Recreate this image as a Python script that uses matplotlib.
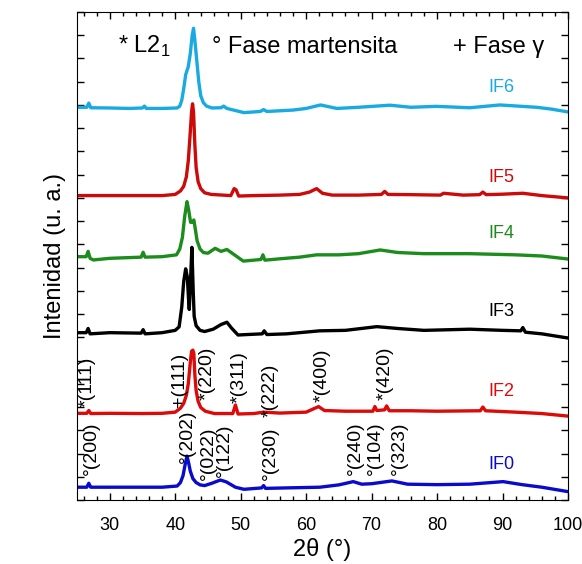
import numpy as np
import matplotlib
matplotlib.use('Agg')
import matplotlib.pyplot as plt
from matplotlib.ticker import MultipleLocator, NullFormatter

plt.rcParams['font.family'] = ['Liberation Sans', 'DejaVu Sans']
plt.rcParams['mathtext.fontset'] = 'custom'
plt.rcParams['mathtext.rm'] = 'Liberation Sans'

# Difractogramas (2theta, intensidad ya desplazada)
tt_if6 = [25, 26.5, 26.8, 27.1, 30, 33, 35.0, 35.3, 35.6, 38, 40.3, 40.7, 41.0, 41.3, 41.6,
          42.0, 42.3, 42.6, 42.8, 43.0, 43.3, 43.6, 43.9, 44.3, 44.8, 45.6, 47.0, 47.4, 47.9,
          50.5, 53.0, 53.5, 54.0, 58, 60, 62.2, 64.7, 68, 72.8, 76, 79.9, 85, 89.6, 95.2,
          97.5, 100]
i_if6 = [16.9, 16.9, 17.08, 16.88, 16.87, 16.85, 16.87, 16.95, 16.85, 16.85, 16.87, 16.95,
         17.2, 17.7, 18.3, 18.65, 19.2, 20.0, 20.3, 19.8, 18.9, 18.0, 17.4, 17.1, 16.95, 16.87,
         16.88, 16.95, 16.85, 16.67, 16.72, 16.8, 16.72, 16.78, 16.85, 17.0, 16.85, 16.9, 16.99,
         16.9, 16.94, 16.88, 17.0, 16.9, 16.82, 16.7]

tt_if5 = [25, 30, 35, 38, 40.0, 40.8, 41.3, 41.7, 42.0, 42.25, 42.5, 42.65, 42.8, 43.0, 43.2,
          43.5, 43.9, 44.5, 45.5, 48.5, 49.0, 49.3, 49.7, 52, 56, 59, 60.5, 61.6, 62.5, 64, 68,
          71.5, 72.0, 72.5, 76, 80.5, 81, 84, 86.5, 87.0, 87.5, 90, 93.1, 96, 100]
i_if5 = [13.1, 13.1, 13.1, 13.1, 13.15, 13.3, 13.5, 13.9, 14.6, 15.6, 16.7, 17.05, 16.7, 15.3,
         14.3, 13.7, 13.4, 13.22, 13.15, 13.1, 13.4, 13.35, 13.08, 13.1, 13.12, 13.15, 13.25,
         13.4, 13.2, 13.12, 13.12, 13.15, 13.28, 13.15, 13.14, 13.12, 13.2, 13.12, 13.14, 13.25,
         13.14, 13.16, 13.2, 13.1, 13.0]

tt_if4 = [25, 26.4, 26.7, 27.0, 27.5, 30, 34.8, 35.1, 35.4, 38, 40.2, 40.7, 41.1, 41.45, 41.8,
          42.05, 42.35, 42.6, 42.85, 43.05, 43.35, 43.8, 44.3, 45.0, 46.1, 47.0, 47.9, 48.9,
          50.4, 53.1, 53.4, 53.7, 56, 59, 61.6, 65, 68, 71.3, 74, 78, 85, 92, 96, 100]
i_if4 = [10.47, 10.47, 10.7, 10.4, 10.33, 10.4, 10.45, 10.66, 10.45, 10.47, 10.55, 10.8, 11.3,
         12.2, 12.84, 12.5, 11.95, 11.95, 12.05, 11.7, 11.15, 10.8, 10.65, 10.62, 10.83, 10.7,
         10.78, 10.58, 10.28, 10.35, 10.55, 10.32, 10.38, 10.45, 10.55, 10.55, 10.6, 10.76,
         10.65, 10.6, 10.6, 10.55, 10.5, 10.37]

tt_if3 = [25, 26.4, 26.7, 27.0, 30, 34.8, 35.1, 35.4, 38, 40.0, 40.6, 41.0, 41.3, 41.6, 41.85,
          42.05, 42.15, 42.35, 42.55, 42.75, 42.9, 43.2, 43.8, 44.5, 45.8, 47.0, 47.9, 48.6,
          49.6, 51, 53.3, 53.6, 54, 57, 62.1, 66, 70.8, 74, 78, 85, 90, 92.8, 93.1, 93.5, 96,
          100]
i_if3 = [7.2, 7.2, 7.38, 7.15, 7.2, 7.18, 7.33, 7.15, 7.2, 7.3, 7.45, 8.3, 9.4, 9.95, 9.6, 8.6,
         8.2, 9.5, 10.87, 9.0, 7.9, 7.5, 7.3, 7.25, 7.35, 7.55, 7.65, 7.4, 7.1, 7.12, 7.15, 7.28,
         7.12, 7.15, 7.28, 7.3, 7.46, 7.38, 7.3, 7.35, 7.3, 7.28, 7.42, 7.22, 7.15, 6.97]

tt_if2 = [25, 26.5, 26.8, 27.1, 30, 35, 38, 40.0, 40.8, 41.3, 41.7, 42.0, 42.3, 42.5, 42.7,
          42.85, 43.0, 43.2, 43.5, 43.9, 44.6, 46, 48.8, 49.2, 49.6, 52, 53.5, 56, 60, 61.9,
          62.8, 66, 70.2, 70.5, 70.8, 72.0, 72.3, 72.7, 76, 80, 86.6, 87.0, 87.4, 92, 96, 100]
i_if2 = [3.73, 3.73, 3.85, 3.72, 3.73, 3.72, 3.73, 3.78, 3.95, 4.16, 4.5, 5.0, 5.9, 6.4, 6.45,
         6.3, 5.4, 4.7, 4.25, 3.98, 3.82, 3.72, 3.72, 4.09, 3.7, 3.72, 3.78, 3.74, 3.78, 4.02,
         3.85, 3.82, 3.82, 4.02, 3.85, 3.88, 4.05, 3.84, 3.84, 3.82, 3.84, 4.0, 3.84, 3.78,
         3.72, 3.61]

tt_if0 = [25, 26.5, 26.8, 27.1, 30, 35, 38, 40.3, 40.8, 41.2, 41.5, 41.8, 42.05, 42.3, 42.7,
          43.2, 43.8, 44.5, 45.6, 46.9, 47.8, 49.2, 50.5, 53.2, 53.5, 53.8, 57, 62.1, 65, 67.2,
          68.5, 70, 73.1, 75.5, 80, 85, 90.1, 93, 96, 100]
i_if0 = [0.55, 0.55, 0.72, 0.55, 0.55, 0.55, 0.55, 0.6, 0.75, 1.05, 1.5, 1.89, 1.6, 1.25, 0.92,
         0.75, 0.65, 0.62, 0.72, 0.86, 0.78, 0.55, 0.46, 0.52, 0.62, 0.5, 0.52, 0.55, 0.65,
         0.79, 0.68, 0.7, 0.82, 0.68, 0.66, 0.68, 0.79, 0.66, 0.55, 0.36]

muestras = ['IF6', 'IF5', 'IF4', 'IF3', 'IF2', 'IF0']
colores = ['#1AAAE2', '#CC0A0A', '#1C8C1C', '#000000', '#DD0A0A', '#0A0ACC']
pos_etiqueta = [17.73, 13.86, 11.45, 8.13, 4.69, 1.51]

# Indexado de picos: (texto, 2theta, altura del pie del texto)
picos_if2 = ['*(111)', '+(111)', '*(220)', '*(311)', '*(222)', '*(400)', '*(420)']
tt_picos_if2 = [26.5, 40.7, 44.9, 49.7, 54.5, 62.4, 72.0]
y_picos_if2 = [4.0, 4.0, 4.3, 4.17, 3.57, 4.2, 4.3]
picos_if0 = ['°(200)', '°(202)', '°(022)', '°(122)', '°(230)', '°(240)', '°(104)', '°(323)']
tt_picos_if0 = [27.2, 41.8, 45.0, 47.5, 54.6, 67.5, 70.6, 74.3]
y_picos_if0 = [1.08, 1.6, 0.86, 1.0, 0.86, 1.08, 1.08, 1.08]

fig = plt.figure(figsize=(5.82, 5.64), dpi=100)
ax = fig.add_axes([0.1323, 0.1135, 0.8436, 0.8652])

datos = [(tt_if6, i_if6), (tt_if5, i_if5), (tt_if4, i_if4),
         (tt_if3, i_if3), (tt_if2, i_if2), (tt_if0, i_if0)]
for (tt, inten), nombre, c, ye in zip(datos, muestras, colores, pos_etiqueta):
    ax.plot(tt, inten, color=c, lw=2.4, solid_joinstyle='round')
    ax.text(89.8, ye, nombre, color=c, fontsize=13, ha='center', va='center')

for txt, x, y in zip(picos_if2, tt_picos_if2, y_picos_if2):
    ax.text(x, y, txt, rotation=90, fontsize=14, ha='center', va='bottom')
for txt, x, y in zip(picos_if0, tt_picos_if0, y_picos_if0):
    ax.text(x, y, txt, rotation=90, fontsize=14, ha='center', va='bottom')

# Leyenda de fases
ax.text(31.3, 19.23, '* L2$_1$', fontsize=17, va='baseline')
ax.text(45.6, 19.23, '° Fase martensita', fontsize=17, va='baseline')
ax.text(82.4, 19.23, '+ Fase γ', fontsize=17, va='baseline')

ax.set_xlim(25, 100)
ax.set_ylim(0, 21)
ax.xaxis.set_major_locator(MultipleLocator(10))
ax.xaxis.set_minor_locator(MultipleLocator(2))
ax.yaxis.set_major_locator(MultipleLocator(1))
ax.yaxis.set_major_formatter(NullFormatter())
ax.tick_params(which='both', direction='in', top=True, right=True)
ax.tick_params(which='major', length=5, width=1, labelsize=13, pad=12)
ax.tick_params(which='minor', length=3, width=1)

ax.set_xlabel('2θ (°)', fontsize=17, labelpad=3)
ax.set_ylabel('Intenidad (u. a.)', fontsize=17, labelpad=-4)

fig.savefig('out.png', dpi=100)
